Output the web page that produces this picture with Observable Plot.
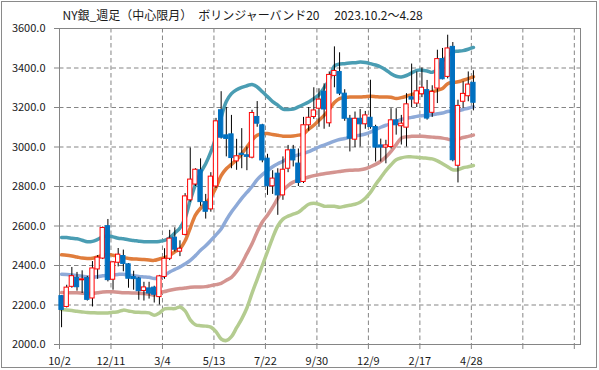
<!DOCTYPE html>
<html>
<head>
<meta charset="utf-8">
<script src="https://cdn.jsdelivr.net/npm/d3@7"></script>
<script src="https://cdn.jsdelivr.net/npm/@observablehq/plot@0.6"></script>
<style>
  html, body { margin: 0; padding: 0; background: #fff; }
  #wrap { position: relative; width: 599px; height: 370px; overflow: hidden; }
  #border { position: absolute; left: 1px; top: 1px; width: 594px; height: 365px; border: 1.5px solid #8a8a8a; pointer-events: none; }
</style>
</head>
<body>
<div id="wrap"><div id="chart"></div><div id="border"></div></div>
<script>
const title = "NY銀_週足（中心限月）　ボリンジャーバンド20　 2023.10.2～4.28";
const xTickLabels = ["10/2", "12/11", "3/4", "5/13", "7/22", "9/30", "12/9", "2/17", "4/28"];
const xGridWeeks = [0, 10, 20, 30, 40, 50, 60, 70, 80, 90, 100];
const yTicks = [2000, 2200, 2400, 2600, 2800, 3000, 3200, 3400, 3600];

const open  = [2245,2190,2292,2337,2325,2336,2233,2380,2435,2599,2328,2414,2448,2406,2342,2334,2271,2284,2288,2240,
               2342,2434,2541,2470,2555,2730,2810,2882,2721,2684,2800,3186,3059,3064,2927,2966,2958,2946,3152,3110,
               2941,2801,2865,2755,2890,2986,2916,2823,3110,3152,3194,3280,3120,3360,3380,3270,3143,3037,3143,3115,
               3148,3101,3008,2997,3000,3135,3105,3098,3252,3220,3267,3288,3173,3296,3445,3355,3507,2905,3229,3257,3325];
const high  = [2248,2300,2390,2365,2373,2345,2420,2450,2595,2633,2420,2486,2478,2410,2371,2340,2315,2315,2295,2350,
               2485,2578,2591,2525,2764,2995,2890,2940,2760,2870,3145,3280,3200,3160,3039,3093,3000,3186,3230,3115,
               2963,2880,2890,2950,3008,3008,2990,3150,3200,3300,3295,3320,3380,3507,3477,3290,3160,3177,3190,3180,
               3338,3110,3040,3034,3194,3194,3160,3270,3420,3380,3400,3337,3310,3490,3499,3566,3529,3237,3330,3380,3386];
const low   = [2085,2185,2285,2270,2258,2220,2190,2330,2430,2317,2275,2393,2368,2285,2275,2224,2220,2230,2210,2200,
               2330,2425,2468,2445,2550,2720,2800,2700,2635,2670,2790,3040,2950,2890,2882,2890,2880,2940,3100,2920,
               2755,2760,2654,2730,2870,2899,2800,2815,3080,3140,3100,3090,3100,3300,3260,3130,2975,2997,3000,3090,
               3090,2924,2924,2915,2990,3060,3010,3000,3200,3200,3250,3136,3150,3220,3340,3345,2925,2818,3195,3229,3183];
const close = [2175,2288,2346,2290,2330,2226,2385,2440,2590,2326,2416,2455,2408,2333,2331,2270,2289,2258,2252,2345,
               2434,2536,2480,2485,2750,2835,2885,2721,2672,2850,3130,3047,3041,2944,2953,2960,2950,3172,3118,2932,
               2801,2840,2755,2885,2983,2932,2818,3110,3148,3185,3240,3190,3365,3385,3270,3143,3042,3143,3115,3160,
               3101,2997,2997,3008,3135,3110,3118,3216,3240,3282,3300,3144,3279,3445,3343,3499,2933,3208,3269,3316,3224];

const bbPlus2  = [2542,2542,2538,2535,2528,2520,2522,2532,2545,2550,2545,2538,2535,2530,2527,2523,2520,2520,2520,2522,
                  2527,2540,2565,2590,2640,2730,2810,2870,2915,2975,3050,3150,3230,3270,3290,3302,3310,3317,3304,3280,
                  3255,3230,3212,3192,3190,3192,3203,3215,3228,3245,3265,3300,3340,3410,3420,3422,3425,3427,3430,3428,
                  3422,3415,3405,3390,3371,3358,3355,3362,3375,3388,3389,3385,3378,3395,3435,3460,3482,3485,3488,3495,3504];
const bbPlus1  = [2454,2452,2448,2443,2438,2436,2437,2443,2452,2457,2452,2447,2440,2436,2433,2432,2430,2428,2426,2433,
                  2440,2451,2470,2485,2525,2590,2655,2690,2715,2747,2795,2855,2890,2912,2935,2965,3000,3035,3059,3067,
                  3068,3063,3059,3055,3054,3056,3060,3066,3090,3110,3135,3160,3190,3225,3245,3250,3253,3253,3253,3255,
                  3257,3255,3253,3253,3252,3246,3250,3257,3265,3273,3276,3276,3280,3287,3296,3320,3327,3330,3338,3346,3355];
const bbMid    = [2356,2355,2352,2350,2346,2342,2342,2343,2348,2350,2352,2355,2356,2352,2348,2344,2342,2340,2334,2338,
                  2350,2367,2380,2392,2408,2426,2450,2477,2500,2527,2555,2585,2630,2671,2705,2740,2770,2800,2835,2860,
                  2880,2900,2915,2928,2942,2952,2960,2968,2976,2988,3000,3010,3020,3030,3038,3043,3050,3055,3060,3066,
                  3075,3088,3100,3110,3118,3130,3140,3146,3150,3155,3158,3160,3163,3168,3172,3180,3180,3183,3190,3196,3203];
const bbMinus1 = [2263,2262,2262,2262,2260,2258,2258,2262,2266,2267,2267,2265,2262,2262,2261,2260,2258,2256,2250,2262,
                  2268,2275,2280,2283,2286,2290,2291,2291,2293,2298,2303,2310,2325,2340,2370,2410,2460,2510,2570,2620,
                  2655,2695,2740,2780,2805,2822,2832,2840,2848,2855,2860,2865,2868,2872,2876,2880,2882,2883,2885,2890,
                  2900,2912,2928,2950,2978,3012,3045,3052,3054,3055,3054,3052,3050,3048,3045,3040,3034,3040,3048,3054,3060];
const bbMinus2 = [2177,2175,2172,2168,2165,2162,2161,2160,2160,2160,2163,2166,2174,2170,2165,2163,2162,2160,2148,2160,
                  2180,2182,2182,2190,2170,2125,2100,2095,2093,2088,2065,2028,2020,2040,2085,2130,2185,2260,2330,2400,
                  2470,2540,2600,2635,2650,2660,2670,2690,2710,2715,2710,2700,2700,2700,2695,2700,2705,2710,2720,2740,
                  2770,2810,2845,2880,2910,2935,2945,2950,2950,2948,2946,2943,2940,2930,2915,2900,2885,2885,2895,2900,2906];

// each weekly slot is centred a little right of its category gridline
const slotCenter = 0.4;
const halfBody = 0.42;

const candles = open.map((o, i) => ({
  pos: i + slotCenter, open: o, high: high[i], low: low[i], close: close[i], up: close[i] >= o
}));

const bands = [
  {name: "+2σ", values: bbPlus2,  color: "#4a9db3"},
  {name: "+1σ", values: bbPlus1,  color: "#e07d3c"},
  {name: "MA20", values: bbMid,   color: "#8eaad8"},
  {name: "-1σ", values: bbMinus1, color: "#d49490"},
  {name: "-2σ", values: bbMinus2, color: "#b4cc90"}
];
const bandPoints = bands.flatMap(b => b.values.map((v, i) => ({series: b.name, pos: i + slotCenter, value: v})));

const gridColor = "#858585";
const font = "'Noto Sans CJK JP', 'Noto Sans', sans-serif";

const chart = Plot.plot({
  width: 599,
  height: 370,
  marginTop: 28,
  marginLeft: 59,
  marginRight: 19,
  marginBottom: 26,
  style: {fontFamily: font, fontSize: "11px", color: "#1a1a1a", background: "transparent"},
  x: {domain: [0, 101.2]},
  y: {domain: [2000, 3600]},
  color: {domain: bands.map(b => b.name), range: bands.map(b => b.color)},
  marks: [
    Plot.gridY(yTicks.slice(1, -1), {stroke: gridColor, strokeOpacity: 1, strokeDasharray: "4.5,3"}),
    Plot.gridX(xGridWeeks.slice(1), {stroke: gridColor, strokeOpacity: 1, strokeDasharray: "4.5,3"}),
    Plot.axisY(yTicks, {tickFormat: d3.format(".1f"), tickSize: 5, tickPadding: 9, stroke: gridColor, label: null, fontSize: 11}),
    Plot.axisX(xGridWeeks, {tickFormat: d => xTickLabels[d / 10] ?? "", tickSize: 5, tickPadding: 8, stroke: gridColor, label: null, fontSize: 11}),
    Plot.frame({stroke: gridColor, strokeWidth: 1}),
    Plot.line(bandPoints, {x: "pos", y: "value", z: "series", stroke: "series", strokeWidth: 3.5, curve: "catmull-rom"}),
    Plot.ruleX(candles, {x: "pos", y1: "low", y2: "high", stroke: "#000", strokeWidth: 1}),
    Plot.rect(candles, {
      x1: d => d.pos - halfBody, x2: d => d.pos + halfBody,
      y1: "open", y2: "close",
      fill: d => d.up ? "#ffffff" : "#0070c0",
      stroke: d => d.up ? "#ff0000" : "#0070c0",
      strokeWidth: 1
    }),
    Plot.text([title], {frameAnchor: "top-left", dx: 3, dy: -12, lineAnchor: "middle", textAnchor: "start", fontSize: 12, fill: "#1a1a1a"})
  ]
});
document.getElementById("chart").appendChild(chart);
</script>
</body>
</html>
